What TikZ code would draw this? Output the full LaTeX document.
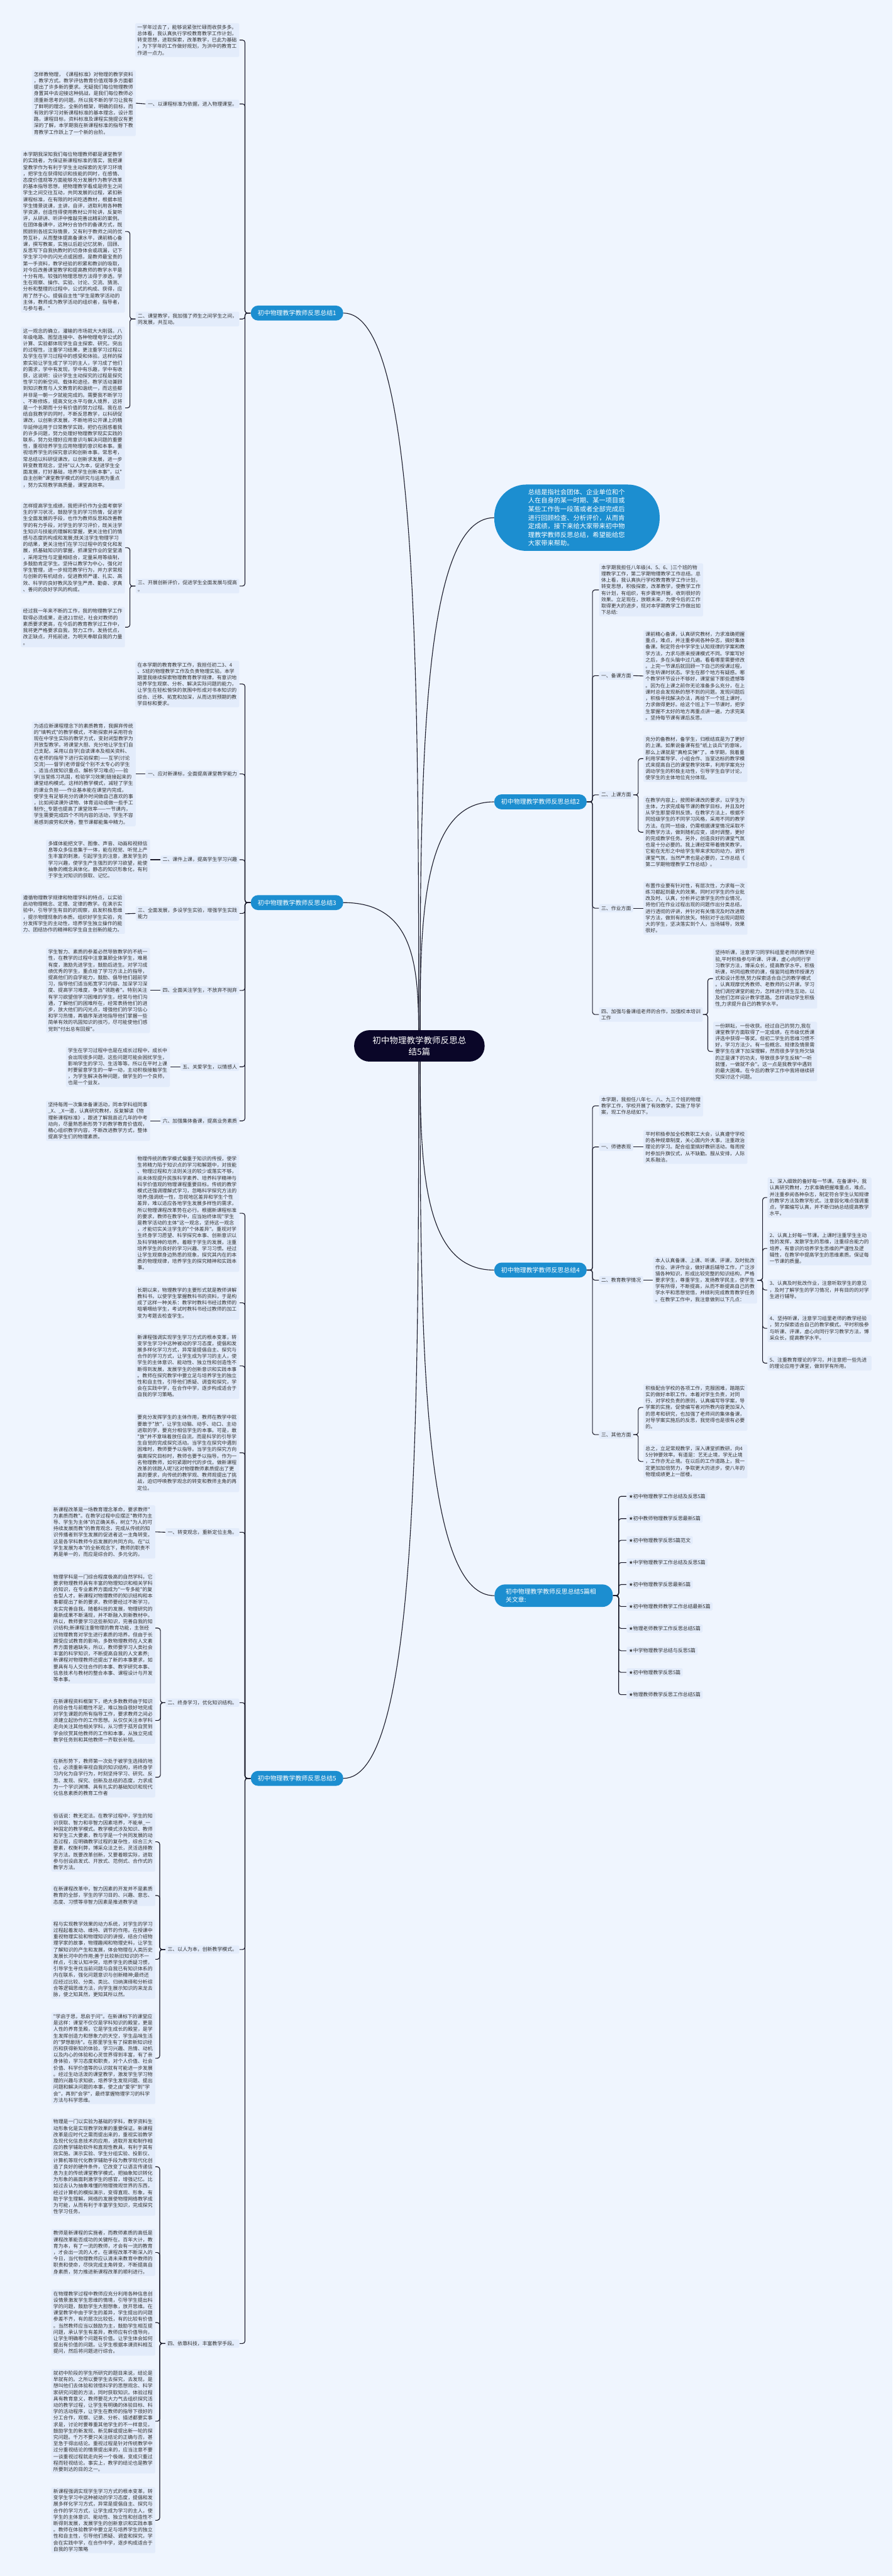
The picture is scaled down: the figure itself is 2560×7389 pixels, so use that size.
\documentclass[tikz,border=0pt]{standalone}
\usepackage{fontspec}
\newfontfamily\cjk{Noto Sans CJK SC}
\newfontfamily\sym{DejaVu Sans}
\usetikzlibrary{calc}
\definecolor{pagebg}{HTML}{EFF5FE}
\definecolor{boxbg}{HTML}{E3ECFB}
\definecolor{mainblue}{HTML}{1C8ED0}
\definecolor{rootnavy}{HTML}{0A0628}
\definecolor{inktext}{HTML}{333333}
\definecolor{inkline}{HTML}{1A1A2A}
\pgfdeclarelayer{background}
\pgfsetlayers{background,main}

\begin{document}
\begin{tikzpicture}[
  x=0.01cm, y=-0.01cm,
  para/.style={rectangle, fill=boxbg, rounded corners=0.03cm, text=inktext, text width=2.86cm, align=left,
    inner xsep=0.06cm, inner ysep=0.05cm, font=\cjk\fontsize{4.05pt}{5.235pt}\selectfont},
  lbl/.style={rectangle, fill=boxbg, rounded corners=0.03cm, text=inktext, align=left,
    inner xsep=0.06cm, inner ysep=0.05cm, font=\cjk\fontsize{4.05pt}{5.235pt}\selectfont},
  item/.style={lbl, anchor=west},
  branch/.style={rectangle, fill=mainblue, text=white, rounded corners=0.21cm, minimum height=0.43cm,
    inner xsep=0.2cm, font=\cjk\fontsize{5.1pt}{6.5pt}\selectfont},
  intro/.style={rectangle, fill=mainblue, text=white, rounded corners=0.92cm, text width=2.8cm, align=left,
    inner xsep=0.97cm, inner ysep=0.13cm, font=\cjk\fontsize{5.26pt}{6.97pt}\selectfont},
  rel/.style={rectangle, fill=mainblue, text=white, rounded corners=0.3cm, text width=2.75cm, align=left,
    inner xsep=0.32cm, inner ysep=0.12cm, font=\cjk\fontsize{5.06pt}{6.83pt}\selectfont},
  hub/.style={rectangle, fill=rootnavy, text=white, rounded corners=0.44cm, minimum width=3.74cm,
    minimum height=0.9cm, align=center, font=\cjk\fontsize{6.95pt}{9.4pt}\selectfont},
  link/.style={draw=inkline, line width=0.02cm, rounded corners=0.07cm},
  curve/.style={draw=inkline, line width=0.02cm},
]
  \begin{pgfonlayer}{background}
    \fill[pagebg] (0,0) rectangle (2560,7389);
  \end{pgfonlayer}
  \useasboundingbox (0,0) rectangle (2560,7389);

  % Root and main branches
  \node[hub] (root) at (1203,3000) {初中物理教学教师反思总\\结5篇};
  \coordinate (rl) at (1201,3000);
  \coordinate (rr) at (1205,3000);
  \node[intro] (intro) at (1655,1485) {总结是指社会团体、企业单位和个\\人在自身的某一时期、某一项目或\\某些工作告一段落或者全部完成后\\进行回顾检查、分析评价，从而肯\\定成绩，接下来给大家带来初中物\\理教学教师反思总结，希望能给您\\大家带来帮助。};
  \node[branch] (b1) at (852,898) {初中物理教学教师反思总结1};
  \node[branch, anchor=west] (b2) at (1417,2300) {初中物理教学教师反思总结2};
  \node[branch] (b3) at (852,2589) {初中物理教学教师反思总结3};
  \node[branch, anchor=west] (b4) at (1417,3643) {初中物理教学教师反思总结4};
  \node[rel, anchor=west] (rel) at (1418,4577) {初中物理教学教师反思总结5篇相\\关文章:};
  \node[branch] (b5) at (852,5101) {初中物理教学教师反思总结5};

  % Summary 1
  \node[para, anchor=east] (t1a) at (687,115) {一学年过去了，能够说紧张忙碌而收获多多。\\总体看，我认真执行学校教育教学工作计划，\\转变思想，进取探索，改革教学，已此为基础\\，为下学年的工作做好规划，为洪中的教育工\\作进一点力。};
  \node[lbl, anchor=east] (l1a) at (687,298) {一、以课程标准为依据，进入物理课堂。};
  \node[para, anchor=east] (t1b) at (390,296) {怎样教物理，《课程标准》对物理的教学资料\\，教学方式。教学评估教育价值观等多方面都\\提出了许多新的要求。无疑我们每位物理教师\\身置其中去迎接这种挑战，是我们每位教师必\\须重新思考的问题。所以我不断的学习让我有\\了鲜明的理念，全新的框架，明确的目标，而\\有效的学习对新课程标准的基本理念，设计思\\路，课程目标，资料标准及课程实施提议有更\\深的了解，本学期我在新课程标准的指导下教\\育教学工作跃上了一个新的台阶。};
  \node[lbl, anchor=east] (l1b) at (687,915) {二、课堂教学，我加强了师生之间学生之间，\\同发展，共互动。};
  \node[para, anchor=east] (t1c) at (359,664) {本学期我深知我们每位物理教师都是课堂教学\\的实践者，为保证新课程标准的落实，我把课\\堂教学作为有利于学生主动探索的无学习环境\\，把学生在获得知识和技能的同时，在感情、\\态度价值观等方面能够充分发展作为教学改革\\的基本指导思想，把物理教学看成是师生之间\\学生之间交往互动，共同发展的过程，紧扣新\\课程标准，在有限的时间吃透教材，根据本班\\学生情景说课，主讲，自评，进取利用各种教\\学资源，创造性得使用教材公开轮讲，反复听\\评，从研讲、听评中推敲完善出精彩的案例。\\在团体备课中，这种分合协作的备课方式，既\\照顾到各班实际情景，又有利于教师之间的优\\势互补，从而整体提高备课水平，课前精心备\\课，撰写教案，实施以后趁记忆犹新，回顾、\\反思写下自我执教时的切身体会或疏漏，记下\\学生学习中的闪光点或困惑，是教师最宝贵的\\第一手资料，教学经验的积累和教训的吸取，\\对今后改善课堂教学和提高教师的教学水平是\\十分有用。较强的物理思想方法得于渗透。学\\生在观察、操作、实验、讨论、交流、猜测、\\分析和整理的过程中，公式的构成、获得，应\\用了然于心。提倡自主性"学生是教学活动的\\主体，教师成为教学活动的组织者，指导者，\\与参与者。"};
  \node[para, anchor=east] (t1d) at (359,1170) {这一观念的确立，灌输的市场就大大削弱。八\\年级电路、图型连接中、各种物理电学公式的\\计算、实验都体现学生自主探索、研究。突出\\的过程性，注重学习结果，更注重学习过程以\\及学生在学习过程中的感受和体验。这样的探\\索实验让学生成了学习的主人，学习成了他们\\的需求，学中有发现，学中有乐趣，学中有收\\获，这说明：设计学生主动探究的过程是探究\\性学习的新空间、载体和途径。教学活动兼顾\\到知识教育与人文教育的和谐统一，而这些都\\并非是一朝一夕就能完成的。需要我不断学习\\、不断修炼，提高文化水平与做人境界，这将\\是一个长期而十分有价值的努力过程。我在总\\结自我教学的同时，不断反思教学，以科研促\\课改，以创新求发展，不断地将公开课上的精\\华延伸运用于日常教学实践，把仍在困惑着我\\的许多问题，努力处理好物理教学现实实践的\\联系，努力处理好应用意识与解决问题的重要\\性，重视培养学生应用物理的意识和本事。重\\视培养学生的探究意识和创新本事。常思考，\\常总结以科研促课改，以创新求发展，进一步\\转变教育观念，坚持"以人为本，促进学生全\\面发展，打好基础，培养学生创新本事"，以"\\自主创新"课堂教学模式的研究与运用为重点\\，努力实现教学高质量，课堂高效率。};
  \node[lbl, anchor=east] (l1c) at (687,1681) {三、开展创新评价，促进学生全面发展与提高\\。};
  \node[para, anchor=east] (t1e) at (359,1571) {怎样提高学生成绩，我把评价作为全面考察学\\生的学习状况，鼓励学生的学习热情，促进学\\生全面发展的手段，也作为教师反思和改善教\\学的有力手段，对学生的学习评价，既关注学\\生知识与技能的理解和掌握，更关注他们的情\\感与态度的构成和发展;既关注学生物理学习\\的结果，更关注他们在学习过程中的变化和发\\展，抓基础知识的掌握，抓课堂作业的堂堂清\\，采用定性与定量相结合，定量采用等级制，\\多鼓励肯定学生。坚持以教学为中心，强化对\\学生管理，进一步规范教学行为，并力求常规\\与创新的有机结合，促进教师严谨、扎实、高\\效、科学的良好教风及学生严肃、勤奋、求真\\、善问的良好学风的构成。};
  \node[para, anchor=east] (t1f) at (359,1799) {经过我一年来不断的工作，我的物理教学工作\\取得必须成果，走进21世纪，社会对教师的\\素质要求更高，在今后的教育教学过工作中，\\我将更严格要求自我，努力工作，发扬优点，\\改正缺点，开拓前进，为明天奉献自我的力量\\。};

  % Summary 2
  \node[para, anchor=west] (t2a) at (1718,1692) {本学期我担任八年级(4、5、6、)三个班的物\\理教学工作，第二学期物理教学工作总结。总\\体上看，我认真执行学校教育教学工作计划，\\转变思想，积极探索，改革教学，使教学工作\\有计划，有组织，有步骤地开展，收到很好的\\效果。立足现在，放眼未来，为使今后的工作\\取得更大的进步，现对本学期教学工作做出如\\下总结:};
  \node[lbl, anchor=west] (l2a) at (1718,1938) {一、备课方面};
  \node[para, anchor=west] (t2b) at (1845,1939) {课前精心备课，认真研究教材，力求准确把握\\重点，难点，并注重参阅各种杂志，搞好集体\\备课。制定符合中学学生认知规律的学案和教\\学方法，力求与原来授课模式不同。学案写好\\之后，多在头脑中过几遍。看看哪里需要修改\\。上完一节课后就回顾一下自己的授课过程，\\学生听课时状态。学生在那个地方有疑惑。哪\\个教学环节设计不够好，课堂留下那些遗憾等\\。因为在上课之前你无论准备多么充分，在上\\课时总会发现新的想不到的问题。发现问题后\\，积极寻找解决办法，再给下一个班上课时，\\力求做得更好。给这个班上下一节课时，把学\\生掌握不太好的地方再重点讲一遍，力求完美\\。坚持每节课有课后反思。};
  \node[lbl, anchor=west] (l2b) at (1718,2280) {二、上课方面};
  \node[para, anchor=west] (t2c) at (1845,2176) {充分的备教材，备学生，归根结底是为了更好\\的上课。如果说备课有些"纸上谈兵"的意味，\\那么上课就是"真枪实弹"了。本学期，我着重\\利用学案导学、小组合作、当堂达标的教学模\\式来提高自己的课堂教学效率，利用学案充分\\调动学生的积极主动性，引导学生自学讨论，\\使学生的主体地位充分体现。};
  \node[para, anchor=west] (t2d) at (1845,2387) {在教学内容上，按照新课改的要求，以学生为\\主体，力求完成每节课的教学目标，并且及时\\从学生那里得到反馈。在教学方法上，根据不\\同班级学生的不同学习风格，采用不同的教学\\方法。在同一班级，仍需根据课堂情况采取不\\同教学方法，做到随机应变，适时调整，更好\\的完成教学任务。另外，创造良好的课堂气氛\\也是十分必要的。我上课经常带着微笑教学，\\它能在无形之中给学生带来求知的动力，调节\\课堂气氛，当然严肃也是必要的，工作总结《\\第二学期物理教学工作总结》。};
  \node[lbl, anchor=west] (l2c) at (1718,2605) {三、作业方面};
  \node[para, anchor=west] (t2e) at (1845,2605) {布置作业要有针对性，有层次性，力求每一次\\练习都起到最大的效果。同时对学生的作业批\\改及时、认真，分析并记录学生的作业情况，\\将他们在作业过程出现的问题作出分类总结，\\进行透彻的评讲，并针对有关情况及时改进教\\学方法，做到有的放矢。特别对于出现问题较\\大的学生，坚决落实到个人，当场辅导，效果\\很好。};
  \node[lbl, anchor=west] (l2d) at (1718,2910) {四、加强与备课组老师的合作，加强校本培训\\工作};
  \node[para, anchor=west] (t2f) at (2045,2807) {坚持听课，注意学习同学科组里老师的教学经\\验,平时积极参与听课、评课，虚心向同行学\\习教学方法，博采众长，提高教学水平。积极\\听课，听同组教师的课，借鉴同组教师授课方\\式和设计思想,努力探索适合自己的教学模式\\。认真观摩优秀教师、老教师的公开课。学习\\他们调控课堂的能力，怎样进行师生互动，以\\及他们怎样设计教学思路。怎样调动学生积极\\性,力求提升自己的教学水平。};
  \node[para, anchor=west] (t2g) at (2045,3016) {一份耕耘，一份收获。经过自己的努力,我在\\课堂教学方面取得了一定成绩，在市级优质课\\评选中获得一等奖。但初二学生的思维习惯不\\好，学习方法少。有一些概念、规律及情景需\\要学生在课下加深理解，然而很多学生所欠缺\\的正是课下的功夫，导致很多学生反映"一听\\就懂，一做就不会"。这一点是我教学中遇到\\的最大困难。在今后的教学工作中我将继续研\\究探讨这个问题。};

  % Summary 3
  \node[para, anchor=east] (t3a) at (687,1962) {在本学期的教育教学工作，我担任初二3、4\\、5班的物理教学工作及负责物理实验。本学\\期里我继续探索物理教育教学规律，有意识地\\培养学生观察、分析、解决实际问题的能力，\\让学生在轻松愉快的氛围中形成对书本知识的\\综合、迁移、拓宽和加深，从而达到预期的教\\学目标和要求。};
  \node[lbl, anchor=east] (l3a) at (687,2220) {一、应对新课标，全面提高课堂教学能力};
  \node[para, anchor=east] (t3b) at (390,2220) {为适应新课程理念下的素质教育，我摒弃传统\\的"填鸭式"的教学模式，不断探索并采用符合\\现在中学生实际的教学方式，变封闭型教学为\\开放型教学。将课堂大胆、充分地让学生们自\\己支配。采用以自学(自读课本及相关资料、\\在老师的指导下进行实验探索)——互学(讨论\\交流)——督学(老师督促个别不太专心的学生\\、适当点拨知识重点、解析学习难点)——验\\学(当堂练习巩固，检验学习效果)链接起来的\\课堂结构模式。这样的教学模式，减轻了学生\\的课业负担——作业基本能在课堂内完成，\\使学生有足够充分的课外时间做自己喜欢的事\\，比如阅读课外读物、体育运动或做一些手工\\制作;\_专题也提高了课堂效率——一节课内，\\学生需要完成四个不同内容的活动，学生不容\\易感到疲劳和厌倦，整节课都能集中精力。};
  \node[lbl, anchor=east] (l3b) at (687,2466) {二、课件上课，提高学生学习兴趣};
  \node[para, anchor=east] (t3c) at (431,2466) {多媒体能把文字、图像、声音、动画和视频信\\息等众多信息集于一体，能在视觉、听觉上产\\生丰富的刺激，引起学生的注意，激发学生的\\学习兴趣，使学生产生强烈的学习欲望，能使\\抽象的概念具体化，静态的知识形象化，有利\\于学生对知识的获取、记忆。};
  \node[lbl, anchor=east] (l3c) at (687,2620) {三、全面发展，多设学生实验，增强学生实践\\能力};
  \node[para, anchor=east] (t3d) at (359,2621) {遵循物理教学规律和物理学科的特点，以实验\\启动物理概念、定理、定律的教学。在演示实\\验中，引导学生有目的的观察，启发积极思维\\，提示物理现象的本质。组织好学生实验，充\\分发挥学生的主动性，培养学生独立操作的能\\力、团结协作的精神和学生自主创新的能力。};
  \node[lbl, anchor=east] (l3d) at (687,2841) {四、全面关注学生，不放弃不抛弃};
  \node[para, anchor=east] (t3e) at (431,2841) {学生智力、素质的参差必然导致教学的不统一\\性，在教学的过程中注意兼顾全体学生，难易\\有度，激励先进学生，鼓励后进生。对学习成\\绩优秀的学生，重点给了学习方法上的指导，\\提高他们的自学能力，鼓励、倡导他们超前学\\习，指导他们适当拓宽学习内容、加深学习深\\度、提高学习难度，争当"领跑者"。特别关注\\有学习欲望但学习困难的学生，经常与他们沟\\通，了解他们的困难所在，经常表扬他们的进\\步，放大他们的闪光点，增强他们的学习信心\\和学习热情，再循序渐进地指导他们掌握一些\\简单有效的巩固知识的技巧，尽可能使他们感\\觉到"付出总有回报"。};
  \node[lbl, anchor=east] (l3e) at (687,3060) {五、关爱学生，以情感人};
  \node[para, anchor=east] (t3f) at (488,3060) {学生在学习过程中也是在成长过程中，成长中\\会出现很多问题，这些问题可能会困扰学生，\\影响学生的学习、生活等等。所以在平时上课\\时要留意学生的一举一动，主动积极接触学生\\，为学生解决各种问题，做学生的一个良师，\\也是一个益友。};
  \node[lbl, anchor=east] (l3f) at (687,3215) {六、加强集体备课，提高业务素质};
  \node[para, anchor=east] (t3g) at (431,3215) {坚持每周一次集体备课活动，同本学科组同事\\\_X、\_X一道，认真研究教材，反复解读《物\\理新课程标准》，跟进了解我县近几年的中考\\动向，尽量熟悉新形势下的教学教育价值观，\\精心组织教学内容，不断改进教学方式，整体\\提高学生们的物理素质。};

  % Summary 4
  \node[para, anchor=west] (t4a) at (1718,3172) {本学期，我担任八年七、八、九三个班的物理\\教学工作，学校开展了有效教学，实施了导学\\案，现工作总结如下。};
  \node[lbl, anchor=west] (l4a) at (1718,3290) {一、师德表现};
  \node[para, anchor=west] (t4b) at (1845,3290) {平时积极参加全校教职工大会，认真遵守学校\\的各种规章制度，关心国内外大事，注重政治\\理论的学习。配合组里搞好教研活动。每周按\\时参加升旗仪式，从不缺勤。服从安排，人际\\关系融洽。};
  \node[lbl, anchor=west] (l4b) at (1718,3672) {二、教育教学情况};
  \node[para, anchor=west] (t4c) at (1873,3672) {本人认真备课、上课、听课、评课，及时批改\\作业、讲评作业，做好课后辅导工作，广泛涉\\猎各种知识，形成比较完整的知识结构，严格\\要求学生，尊重学生，发扬教学民主，使学生\\学有所得，不断提高，从而不断提高自己的教\\学水平和思想觉悟，并顺利完成教育教学任务\\。在教学工作中，我注意做到以下几点：};
  \node[para, anchor=west] (t4d) at (2201,3435) {1、深入细致的备好每一节课。在备课中，我\\认真研究教材，力求准确把握难重点，难点。\\并注重参阅各种杂志，制定符合学生认知规律\\的教学方法及教学形式。注意弱化难点强调重\\点，学案编写认真，并不断归纳总结提高教学\\水平。};
  \node[para, anchor=west] (t4e) at (2201,3581) {2、认真上好每一节课。上课时注重学生主动\\性的发挥，发散学生的思维，注重综合能力的\\培养，有意识的培养学生思维的严谨性及逻\\辑性，在教学中提高学生的思维素质。保证每\\一节课的质量。};
  \node[para, anchor=west] (t4f) at (2201,3700) {3、认真及时批改作业，注意听取学生的意见\\，及时了解学生的学习情况，并有目的的对学\\生进行辅导。};
  \node[para, anchor=west] (t4g) at (2201,3810) {4、坚持听课，注意学习组里老师的教学经验\\，努力探索适合自己的教学模式。平时积极参\\与听课、评课，虚心向同行学习教学方法，博\\采众长，提高教学水平。};
  \node[para, anchor=west] (t4h) at (2201,3910) {5、注重教育理论的学习，并注意把一些先进\\的理论应用于课堂，做到学有所用。};
  \node[lbl, anchor=west] (l4c) at (1718,4115) {三、其他方面};
  \node[para, anchor=west] (t4i) at (1845,4037) {积极配合学校的各项工作，克服困难，踏踏实\\实的做好本职工作。本着对学生负责，对同\\行、对学校负责的原则，认真编写导学案，导\\学案的实施，促使编写者对所教内容更加深入\\的思考和研究，也加强了老师间的集体备课，\\对导学案实施后的反思，我觉得也是很有必要\\的。};
  \node[para, anchor=west] (t4j) at (1845,4192) {总之，立足常规教学，深入课堂抓教研，向4\\5分钟要效率。有道是：艺无止境，学无止境\\，工作亦无止境。在以后的工作道路上，我一\\定更加加倍努力，争取更大的进步，使八年的\\物理成绩更上一层楼。};

  % Related articles
  \node[item] (r1) at (1797,4292) {{\sym ★}初中物理教学工作总结及反思5篇};
  \node[item] (r2) at (1797,4356) {{\sym ★}初中教师物理教学反思最新5篇};
  \node[item] (r3) at (1797,4418) {{\sym ★}初中物理教学反思5篇范文};
  \node[item] (r4) at (1797,4482) {{\sym ★}中学物理教学工作总结及反思5篇};
  \node[item] (r5) at (1797,4545) {{\sym ★}初中物理教学反思最新5篇};
  \node[item] (r6) at (1797,4608) {{\sym ★}初中物理教师教学工作总结最新5篇};
  \node[item] (r7) at (1797,4671) {{\sym ★}物理老师教学工作反思总结5篇};
  \node[item] (r8) at (1797,4735) {{\sym ★}中学物理教学总结与反思5篇};
  \node[item] (r9) at (1797,4797) {{\sym ★}初中物理教学反思5篇};
  \node[item] (r10) at (1797,4861) {{\sym ★}物理教师教学反思工作总结5篇};

  % Summary 5
  \node[para, anchor=east] (t5a) at (687,3480) {物理传统的教学模式偏重于知识的传授，使学\\生将精力陷于知识点的学习和解题中，对技能\\、物理过程和方法则关注的较少或落实不够，\\尚未体现提升民族科学素养、培养科学精神与\\科学价值观的物理课程重要目标。传统的教学\\模式还强调理解式学习，忽略科学探究方法的\\培养;强调统一性，忽视地区差异和学生个性\\差异，难以适应各地学生发展多样性的需求，\\所以物理课程改革势在必行。根据新课程标准\\的要求，教师在教学中，应当始终体现"学生\\是教学活动的主体"这一观念，坚持这一观念\\，才能切实关注学生的"个体差异"。重视对学\\生终身学习愿望、科学探究本事、创新意识以\\及科学精神的培养。着眼于学生的发展，注重\\培养学生的良好的学习兴趣、学习习惯。经过\\让学生观察身边熟悉的现象，探究其内在的本\\质的物理规律，培养学生的探究精神和实践本\\事。};
  \node[para, anchor=east] (t5b) at (687,3737) {长期以来，物理教学的主要形式就是教师讲解\\教科书，以使学生掌握教科书的资料，于是构\\成了这样一种关系：教学时教科书经过教师的\\咀嚼喂给学生，考试时教科书经过教师的加工\\变为考题去检查学生。};
  \node[para, anchor=east] (t5c) at (687,3918) {新课程强调实现学生学习方式的根本变革，转\\变学生学习中这种被动的学习态度，提倡和发\\展多样化学习方式，异常是提倡自主、探究与\\合作的学习方式，让学生成为学习的主人，使\\学生的主体意识、能动性、独立性和创造性不\\断得到发展，发展学生的创新意识和实践本事\\。教师在探究教学中要立足与培养学生的独立\\性和自主性，引导他们质疑、调查和探究，学\\会在实践中学，在合作中学，逐步构成适合于\\自我的学习策略。};
  \node[para, anchor=east] (t5d) at (687,4167) {要充分发挥学生的主体作用，教师在教学中就\\要敢于"放"，让学生动脑、动手、动口、主动\\进取的学，要充分相信学生的本事。可是，敢\\"放"并不意味着放任自流，而是科学的引导学\\生自觉的完成探究活动。当学生在探究中遇到\\困难时，教师要予以指导。当学生的探究方向\\偏离探究目标时，教师也要予以指导。作为一\\名物理教师，如何紧跟时代的步伐，做新课程\\改革的领跑人呢?这对物理教师素质提出了更\\高的要求，向传统的教学观、教师观提出了挑\\战，迫切呼唤教学观念的转变和教师主角的再\\定位。};
  \node[lbl, anchor=east] (l5a) at (687,4395) {一、转变观念，重新定位主角。};
  \node[para, anchor=east] (t5e) at (446,4394) {新课程改革是一场教育理念革命，要求教师"\\为素质而教"。在教学过程中应摆正"教师为主\\导、学生为主体"的正确关系，树立"为人的可\\持续发展而教"的教育观念，完成从传统的知\\识传播者到学生发展的促进者这一主角转变。\\这是各学科教师今后发展的共同方向。在"以\\学生发展为本"的全新观念下，教师的职责不\\再是单一的，而应是综合的、多元化的。};
  \node[lbl, anchor=east] (l5b) at (687,4884) {二、终身学习，优化知识结构。};
  \node[para, anchor=east] (t5f) at (446,4670) {物理学科是一门综合程度极高的自然学科，它\\要求物理教师具有丰富的物理知识和相关学科\\的知识，在专业素养方面成为"一专多能"的复\\合型人才。新课程对物理教师的知识结构和本\\事都提出了新的要求，教师要经过不断学习，\\充实完善自我。随着科技的发展，物理研究的\\最新成果不断涌现，并不断融入到新教材中。\\所以，教师要学习这些新知识，完善自我的知\\识结构;新课程注重物理的教育功能，主张经\\过物理教育对学生进行素质的培养。但由于长\\期受应试教育的影响，多数物理教师在人文素\\养方面普遍缺失，所以，教师要学习人类社会\\丰富的科学知识，不断提高自我的人文素养;\\新课程对物理教师还提出了新的本事要求，如\\要具有与人交往合作的本事、教学研究本事、\\信息技术与教材的整合本事、课程设计与开发\\等本事。};
  \node[para, anchor=east] (t5g) at (446,4935) {在新课程资料框架下，绝大多数教师由于知识\\的综合性与前瞻性不足，难以独自很好地完成\\对学生课题的所有指导工作，要求教师之间必\\须建立起协作的工作思想。从仅仅关注本学科\\走向关注其他相关学科，从习惯于孤芳自赏到\\学会欣赏其他教师的工作和本事，从独立完成\\教学任务到和其他教师一齐取长补短。};
  \node[para, anchor=east] (t5h) at (446,5098) {在新形势下，教师第一次处于被学生选择的地\\位，必须重新审视自我的知识结构，将终身学\\习内化为自学行为，时刻坚持学习、研究、反\\思、发现、探究、创新及总结的态度，力求成\\为一个学识渊博、具有扎实的基础知识和现代\\化信息素质的教育工作者};
  \node[lbl, anchor=east] (l5c) at (687,5592) {三、以人为本，创新教学模式。};
  \node[para, anchor=east] (t5i) at (446,5283) {俗话说：教无定法。在教学过程中，学生的知\\识获取、智力和非智力因素培养，不能单\_一\\种固定的教学模式。教学模式涉及知识、教师\\和学生三大要素，教与学是一个共同发展的动\\态过程，应明确教学过程的复杂性，综合三大\\要素，权衡利弊，博采众法之长，灵活选择教\\学方法。既要改革创新，又要着眼实际，进取\\参与创设启发式、开放式、范例式、合作式的\\教学方法。};
  \node[para, anchor=east] (t5j) at (446,5437) {在新课程改革中，智力因素的开发并不是素质\\教育的全部，学生的学习目的、兴趣、意志、\\态度、习惯等非智力因素是推进教学进};
  \node[para, anchor=east] (t5k) at (446,5620) {程与实现教学效果的动力系统，对学生的学习\\过程起着发动、维持、调节的作用。在授课中\\重视物理实验和物理知识的讲授，结合介绍物\\理学家的故事，物理趣闻和物理史料，让学生\\了解知识的产生和发展，体会物理在人类历史\\发展长河中的作用;善于比较新旧知识的不一\\样点，引发认知冲突，培养学生的质疑习惯，\\引导学生寻找当前问题与自我已有知识体系的\\内在联系，强化问题意识与创新精神;最终还\\应经过比较、分类、类比、归纳演绎和分析综\\合等逻辑思维方法，向学生展示知识的来龙去\\脉，使之知其然，更知其所以然。};
  \node[para, anchor=east] (t5l) at (446,5904) {"学启于思，思启于问"。在新课标下的课堂应\\是这样：课堂不仅仅是学科知识的殿堂，更是\\人性的养育圣殿，它是学生成长的殿堂，是学\\生发挥创造力和想象力的天空，学生品味生活\\的"梦想剧场"。在那里学生有了探索新知识经\\历和获得新知的体验，学习兴趣、热情、动机\\以及内心的体验和心灵世界得到丰富，有了亲\\身体验，学习态度和职责，对个人价值、社会\\价值、科学价值等的认识就有可能进一步发展\\。经过生动活泼的课堂教学，激发学生学习物\\理的兴趣与求知欲，培养学生发现问题、提出\\问题和解决问题的本事，使之由"爱学"到"学\\会"，再到"会学"，最终掌握物理学习的科学\\方法与科学思维。};
  \node[lbl, anchor=east] (l5d) at (687,6722) {四、依靠科技，丰富教学手段。};
  \node[para, anchor=east] (t5m) at (446,6215) {物理是一门以实验为基础的学科，教学资料生\\动形象化是实现教学效果的重要保证。新课程\\改革是应时代之需而提出来的，重视实验教学\\及现代化信息技术的应用，进取开发和制作相\\应的教学辅助软件和直观性教具，有利于其有\\效实施。演示实验、学生分组实验、投影仪、\\计算机等现代化教学辅助手段为教学现代化创\\造了良好的硬件条件，它改变了以语言传递信\\息为主的传统课堂教学模式，把抽象知识转化\\为形象的画面刺激学生的感官，增强记忆。比\\如过去认为抽象难懂的物理微观世界的东西，\\经过计算机的模拟演示，变得直观、形象，有\\助于学生理解。网络的发展使物理网络教学成\\为可能，从而有利于丰富学生知识，完成探究\\性学习任务。};
  \node[para, anchor=east] (t5n) at (446,6461) {教师是新课程的实施者，而教师素质的高低是\\课程改革能否成功的关键所在。百年大计，教\\育为本，有了一流的教师，才会有一流的教育\\，才会出一流的人才。在课程改革不断深入的\\今日，当代物理教师应认清未来教育中教师的\\职责和使命，尽快完成主角转变，不断提高自\\身素质，努力推进新课程改革的顺利进行。};
  \node[para, anchor=east] (t5o) at (446,6662) {在物理教学过程中教师应充分利用各种信息创\\设情景激发学生思维的情境，引导学生提出科\\学的问题，鼓励学生大胆想象，放开思维。在\\课堂教学中由于学生的差异，学生提出的问题\\参差不齐，有的层次比较低，有的比较有价值\\。当然教师应当以鼓励为主，鼓励学生相互提\\问题，承认学生有差异，教师应有价值导向，\\让学生明确哪个问题有价值。让学生体会如何\\提出有价值的问题。让学生根据本课资料相互\\提问，然后将问题进行综合。};
  \node[para, anchor=east] (t5p) at (446,6945) {就初中阶段的学生所研究的题目来说，结论是\\早就有的。之所以要学生去探究，去发现，是\\想叫他们去体验和领悟科学的思想观念、科学\\家研究问题的方法，同时获取知识。体验过程\\具有教育意义，教师要花大力气去组织探究活\\动的教学过程，让学生有明确的体验目标、科\\学的活动程序，让学生在教师的指导下很好的\\分工合作，观察、记录、分析、描述都要实事\\求是，讨论时要尊重其他学生的不一样意见，\\鼓励学生的新发现、新见解或提出新一轮的探\\究问题。千万不要只关注结论的正确与否，甚\\至急于得出结论。重视过程是针对传统教学中\\过分重视结论的情景提出来的，应当注意不要\\一谈重视过程就走向另一个极端，变成只重过\\程而轻视结论。事实上，教学的结论也是教学\\所要到达的目的之一。};
  \node[para, anchor=east] (t5q) at (446,7229) {新课程强调实现学生学习方式的根本变革，转\\变学生学习中这种被动的学习态度，提倡和发\\展多样化学习方式，异常是提倡自主、探究与\\合作的学习方式，让学生成为学习的主人，使\\学生的主体意识、能动性、独立性和创造性不\\断得到发展，发展学生的创新意识和实践本事\\。教师在体验教学中要立足与培养学生的独立\\性和自主性，引导他们质疑、调查和探究，学\\会在实践中学，在合作中学，逐步构成适合于\\自我的学习策略};

  \begin{pgfonlayer}{background}
    % Root to branches
    \draw[curve] (rl) .. controls ($(rl)!0.5!(rl |- b1.east)$) and (rl |- b1.east) .. (b1.east);
    \draw[curve] (rl) .. controls ($(rl)!0.5!(rl |- b3.east)$) and (rl |- b3.east) .. (b3.east);
    \draw[curve] (rl) .. controls ($(rl)!0.5!(rl |- b5.east)$) and (rl |- b5.east) .. (b5.east);
    \draw[curve] (rr) .. controls ($(rr)!0.5!(rr |- intro.west)$) and (rr |- intro.west) .. (intro.west);
    \draw[curve] (rr) .. controls ($(rr)!0.5!(rr |- b2.west)$) and (rr |- b2.west) .. (b2.west);
    \draw[curve] (rr) .. controls ($(rr)!0.5!(rr |- b4.west)$) and (rr |- b4.west) .. (b4.west);
    \draw[curve] (rr) .. controls ($(rr)!0.5!(rr |- rel.west)$) and (rr |- rel.west) .. (rel.west);

    % Summary 1 links
    \foreach \c in {t1a,l1a,l1b,l1c}
      \draw[link] (b1.west) -- ++(-16,0) |- (\c.east);
    \draw[link] (l1a.west) -- (t1b.east);
    \foreach \c in {t1c,t1d}
      \draw[link] (l1b.west) -- ++(-16,0) |- (\c.east);
    \foreach \c in {t1e,t1f}
      \draw[link] (l1c.west) -- ++(-16,0) |- (\c.east);

    % Summary 2 links
    \foreach \c in {t2a,l2a,l2b,l2c,l2d}
      \draw[link] (b2.east) -- ++(16,0) |- (\c.west);
    \draw[link] (l2a.east) -- (t2b.west);
    \foreach \c in {t2c,t2d}
      \draw[link] (l2b.east) -- ++(14,0) |- (\c.west);
    \draw[link] (l2c.east) -- (t2e.west);
    \foreach \c in {t2f,t2g}
      \draw[link] (l2d.east) -- ++(14,0) |- (\c.west);

    % Summary 3 links
    \foreach \c in {t3a,l3a,l3b,l3c,l3d,l3e,l3f}
      \draw[link] (b3.west) -- ++(-16,0) |- (\c.east);
    \draw[link] (l3a.west) -- (t3b.east);
    \draw[link] (l3b.west) -- (t3c.east);
    \draw[link] (l3c.west) -- (t3d.east);
    \draw[link] (l3d.west) -- (t3e.east);
    \draw[link] (l3e.west) -- (t3f.east);
    \draw[link] (l3f.west) -- (t3g.east);

    % Summary 4 links
    \foreach \c in {t4a,l4a,l4b,l4c}
      \draw[link] (b4.east) -- ++(16,0) |- (\c.west);
    \draw[link] (l4a.east) -- (t4b.west);
    \draw[link] (l4b.east) -- (t4c.west);
    \foreach \c in {t4d,t4e,t4f,t4g,t4h}
      \draw[link] (t4c.east) -- ++(15,0) |- (\c.west);
    \foreach \c in {t4i,t4j}
      \draw[link] (l4c.east) -- ++(14,0) |- (\c.west);

    % Related article links
    \foreach \c in {r1,r2,r3,r4,r5,r6,r7,r8,r9,r10}
      \draw[link] (rel.east) -- ++(16,0) |- (\c.west);

    % Summary 5 links
    \foreach \c in {t5a,t5b,t5c,t5d,l5a,l5b,l5c,l5d}
      \draw[link] (b5.west) -- ++(-16,0) |- (\c.east);
    \draw[link] (l5a.west) -- (t5e.east);
    \foreach \c in {t5f,t5g,t5h}
      \draw[link] (l5b.west) -- ++(-14,0) |- (\c.east);
    \foreach \c in {t5i,t5j,t5k,t5l}
      \draw[link] (l5c.west) -- ++(-16,0) |- (\c.east);
    \foreach \c in {t5m,t5n,t5o,t5p,t5q}
      \draw[link] (l5d.west) -- ++(-16,0) |- (\c.east);
  \end{pgfonlayer}
\end{tikzpicture}
\end{document}
